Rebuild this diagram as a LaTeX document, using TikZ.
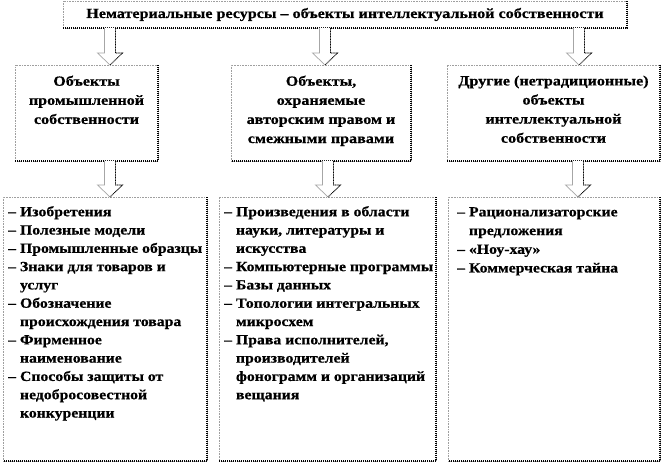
\documentclass[tikz,border=0pt]{standalone}
\usepackage{fontspec}
\setmainfont[FakeStretch=1.15, BoldFeatures={FakeBold=0.6}]{Liberation Serif}
\newfontfamily\lstfont[FakeStretch=1.125, BoldFeatures={FakeBold=0.6}]{Liberation Serif}
\usetikzlibrary{calc}
\tikzset{
  box/.style={draw=gray!75, line width=0.6pt, densely dotted, fill=white,
    inner sep=0pt, outer sep=0pt, anchor=north west},
  shadeedge/.style={draw=black, line width=1.3pt, dash pattern=on 1pt off 1pt},
  hdr/.style={font=\bfseries\fontsize{14}{19.1}\selectfont, align=center,
    inner sep=0pt, anchor=north},
  lst/.style={font=\lstfont\bfseries\fontsize{14}{18.3}\selectfont, align=left,
    inner sep=0pt, anchor=north west},
  arrowline/.style={draw=gray!70, line width=0.7pt, fill=white},
  arrowdots/.style={draw=black, line width=0.8pt, dash pattern=on 0.8pt off 0.8pt},
}
\newcommand\blockarrow[2]{%
  \draw[arrowline] ($(#1)+(-5.5,0)$) -- ($(#2)+(-5.5,-12)$) -- ($(#2)+(-12.5,-12)$)
    -- (#2) -- ($(#2)+(12.5,-12)$) -- ($(#2)+(5.5,-12)$) -- ($(#1)+(5.5,0)$);
  \draw[arrowdots] ($(#1)+(5.5,0)$) -- ($(#2)+(5.5,-12)$) -- ($(#2)+(12.5,-12)$) -- (#2);
}
\newcommand\shadeit[1]{%
  \draw[shadeedge] (#1.north east) -- (#1.south east) -- (#1.south west);
}
\newcommand\hang{\phantom{– }}
\begin{document}
\begin{tikzpicture}[x=1pt, y=-1pt]
\useasboundingbox (0,0) rectangle (666,465);

% boxes
\node[box, minimum width=564pt, minimum height=27pt] (top) at (63,1) {};
\node[box, minimum width=143pt, minimum height=96pt] (m1) at (15,65) {};
\node[box, minimum width=180pt, minimum height=96pt] (m2) at (231,65) {};
\node[box, minimum width=213pt, minimum height=96pt] (m3) at (447,65) {};
\node[box, minimum width=204pt, minimum height=264pt] (b1) at (3,197) {};
\node[box, minimum width=217pt, minimum height=264pt] (b2) at (219,197) {};
\node[box, minimum width=212pt, minimum height=264pt] (b3) at (448,197) {};
\foreach \n in {top,m1,m2,m3,b1,b2,b3} {\shadeit{\n}}

% texts
\node[font=\bfseries\fontsize{14}{17}\selectfont, inner sep=0pt] (toptext) at (top.center)
  {Нематериальные ресурсы – объекты интеллектуальной собственности};
\node[hdr] (m1t) at ($(m1.north)+(0,10.5)$) {Объекты\\промышленной\\собственности};
\node[hdr] (m2t) at ($(m2.north)+(0,10.5)$) {Объекты,\\охраняемые\\авторским правом и\\смежными правами};
\node[hdr] (m3t) at ($(m3.north)+(0,10.5)$) {Другие (нетрадиционные)\\объекты\\интеллектуальной\\собственности};

\node[lst] (b1t) at ($(b1.north west)+(5,9)$) {%
– Изобретения\\
– Полезные модели\\
– Промышленные образцы\\
– Знаки для товаров и\\
\hang услуг\\
– Обозначение\\
\hang происхождения товара\\
– Фирменное\\
\hang наименование\\
– Способы защиты от\\
\hang недобросовестной\\
\hang конкуренции};
\node[lst] (b2t) at ($(b2.north west)+(5,9)$) {%
– Произведения в области\\
\hang науки, литературы и\\
\hang искусства\\
– Компьютерные программы\\
– Базы данных\\
– Топологии интегральных\\
\hang микросхем\\
– Права исполнителей,\\
\hang производителей\\
\hang фонограмм и организаций\\
\hang вещания};
\node[lst, font=\lstfont\bfseries\fontsize{14}{18.7}\selectfont] (b3t) at ($(b3.north west)+(9,10)$) {%
– Рационализаторские\\
\hang предложения\\
– «Ноу-хау»\\
– Коммерческая тайна};

% arrow positions
\coordinate (x1) at (110,0);
\coordinate (x2) at (325,0);
\coordinate (x3) at (579,0);
\coordinate (y1) at (110,0);
\coordinate (y2) at (328,0);
\coordinate (y3) at (578,0);
\coordinate (a1s) at (top.south -| x1); \coordinate (a1e) at (m1.north -| x1);
\coordinate (a2s) at (top.south -| x2); \coordinate (a2e) at (m2.north -| x2);
\coordinate (a3s) at (top.south -| x3); \coordinate (a3e) at (m3.north -| x3);
\coordinate (c1s) at (m1.south -| y1); \coordinate (c1e) at (b1.north -| y1);
\coordinate (c2s) at (m2.south -| y2); \coordinate (c2e) at (b2.north -| y2);
\coordinate (c3s) at (m3.south -| y3); \coordinate (c3e) at (b3.north -| y3);
\blockarrow{a1s}{a1e}
\blockarrow{a2s}{a2e}
\blockarrow{a3s}{a3e}
\blockarrow{c1s}{c1e}
\blockarrow{c2s}{c2e}
\blockarrow{c3s}{c3e}
\end{tikzpicture}
\end{document}
